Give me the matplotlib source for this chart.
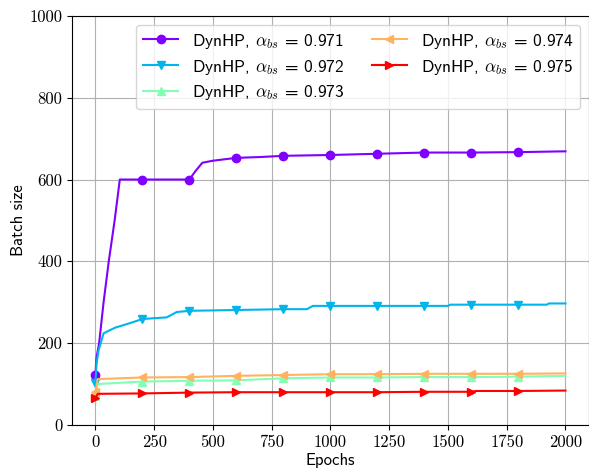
import matplotlib
matplotlib.use('Agg')
import matplotlib.pyplot as plt
import numpy as np

plt.rcParams['mathtext.fontset'] = 'cm'

# batch size per epoch (breakpoints of each curve)
x_971 = [0, 5, 16, 35, 57, 82, 104, 200, 400, 425, 455, 500, 600, 700, 800, 1000, 1200, 1400, 1600, 1800, 2000]
y_971 = [122, 165, 200, 300, 400, 500, 600, 600, 600, 620, 641, 646, 653, 655, 658, 660, 663, 666, 666, 667, 669]

x_972 = [0, 5, 14, 35, 56, 85, 148, 200, 304, 346, 400, 600, 800, 900, 925, 1000, 1200, 1400, 1500, 1510, 1600, 1800, 1920, 1930, 2000]
y_972 = [103, 150, 183, 224, 230, 238, 249, 259, 263, 276, 279, 281, 283, 283, 291, 291, 291, 291, 291, 294, 294, 294, 294, 297, 297]

x_973 = [0, 10, 200, 400, 600, 800, 1000, 1200, 1400, 1600, 1800, 2000]
y_973 = [70, 100, 106, 108, 109, 114, 116, 116, 117, 117, 118, 120]

x_974 = [0, 10, 200, 400, 600, 800, 1000, 1200, 1400, 1600, 1800, 2000]
y_974 = [81, 112, 116, 117, 120, 122, 124, 124, 125, 125, 125, 126]

x_975 = [0, 10, 200, 400, 600, 800, 1000, 1200, 1400, 1600, 1620, 1800, 2000]
y_975 = [65, 76, 77, 79, 80, 80, 80, 80, 81, 81, 83, 83, 84]

alphas = ['0.971', '0.972', '0.973', '0.974', '0.975']
markers = ['o', 'v', '^', '<', '>']

x_ticks = [0, 250, 500, 750, 1000, 1250, 1500, 1750, 2000]
y_ticks = [0, 200, 400, 600, 800, 1000]

series = [(x_971, y_971), (x_972, y_972), (x_973, y_973), (x_974, y_974), (x_975, y_975)]
colors = plt.cm.rainbow(np.linspace(0, 1, len(series)))

fig = plt.figure(figsize=(5.89, 4.69), dpi=100)
ax = fig.add_axes([0.122, 0.094, 0.878, 0.872])

for (xs, ys), a, m, c in zip(series, alphas, markers, colors):
    # markers every 200 epochs, none at the final epoch
    mk = [i for i, v in enumerate(xs) if v % 200 == 0 and v < 2000]
    ax.plot(xs, ys, color=c, marker=m, markevery=mk, markersize=6, lw=1.5,
            label=r'DynHP, $\alpha_{bs}$ = ' + a)

ax.set_xlim(-100, 2100)
ax.set_ylim(0, 1000)
ax.set_xticks(x_ticks)
ax.set_xticklabels([str(t) for t in x_ticks], fontfamily='cmr10', fontsize=12)
ax.set_yticks(y_ticks)
ax.set_yticklabels([str(t) for t in y_ticks], fontfamily='cmr10', fontsize=12)
ax.grid(True, color='#b0b0b0', lw=0.8)
ax.set_axisbelow(True)

ax.set_xlabel('Epochs', fontfamily='cmss10', fontsize=12, labelpad=2)
ax.set_ylabel('Batch size', fontfamily='cmss10', fontsize=12, labelpad=2)

ax.legend(loc='upper right', ncol=2, labelspacing=0.4, columnspacing=1.6,
          prop={'family': 'cmss10', 'size': 12.5})

fig.savefig('out.png', dpi=100)
